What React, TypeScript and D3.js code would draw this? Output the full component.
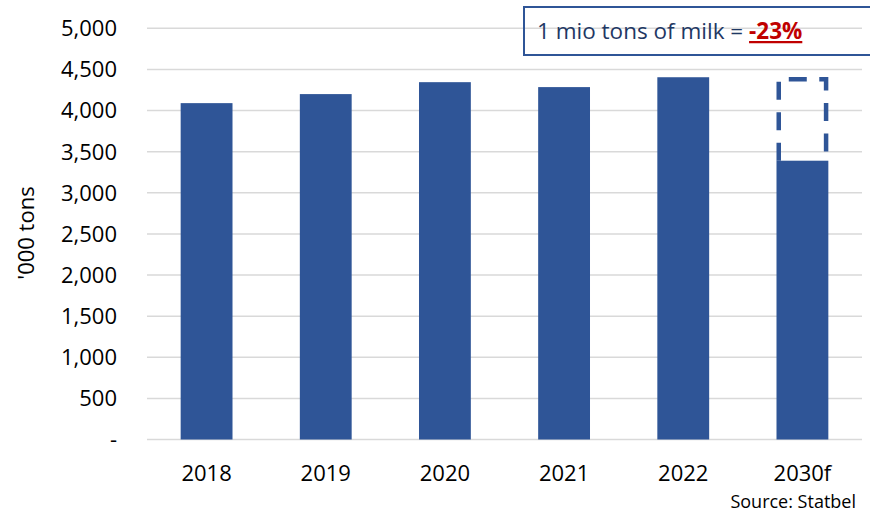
import React from "react";
import * as d3 from "d3";

const categories = ["2018", "2019", "2020", "2021", "2022", "2030f"];
const values = [4090, 4200, 4345, 4285, 4405, 3390];
const previousLevel = [null, null, null, null, null, 4405];
const yTicks = [0, 500, 1000, 1500, 2000, 2500, 3000, 3500, 4000, 4500, 5000];
const annotationText = "1 mio tons of milk = ";
const annotationValue = "-23%";
const yTitle = "'000 tons";
const sourceText = "Source: Statbel";

const W = 870;
const H = 514;
const FONT = "'Open Sans', 'Noto Sans', sans-serif";
const BLUE = "#2F5597";

export default function App() {
  const left = 147;
  const right = 862;
  const top = 28.3;
  const bottom = 439.5;

  const x = d3
    .scaleBand<string>()
    .domain(categories)
    .range([left, right])
    .paddingInner(0.565)
    .paddingOuter(0.2825);
  const y = d3.scaleLinear().domain([0, 5000]).range([bottom, top]);
  const fmt = (v: number) => (v === 0 ? "-" : d3.format(",")(v));

  const sw = 4.5;

  return (
    <svg
      width={W}
      height={H}
      style={{ position: "absolute", left: 0, top: 0, background: "#fff" }}
      fontFamily={FONT}
    >
      {yTicks.map((t) => (
        <g key={t}>
          <line x1={left} x2={right} y1={y(t)} y2={y(t)} stroke="#D9D9D9" strokeWidth={1.5} />
          <text x={117} y={y(t)} dy="0.36em" textAnchor="end" fontSize={22} fill="#000">
            {fmt(t)}
          </text>
        </g>
      ))}
      {categories.map((c, i) => (
        <g key={c}>
          <rect
            x={x(c)!}
            y={y(values[i])}
            width={x.bandwidth()}
            height={y(0) - y(values[i])}
            fill={BLUE}
          />
          <text
            x={x(c)! + x.bandwidth() / 2}
            y={481}
            textAnchor="middle"
            fontSize={22}
            fill="#000"
          >
            {c}
          </text>
        </g>
      ))}
      {categories.map((c, i) => {
        const p = previousLevel[i];
        if (p == null) return null;
        const x0 = x(c)! + sw / 2;
        const x1 = x(c)! + x.bandwidth() - sw / 2;
        const yb = y(values[i]);
        const yt = y(p) + 2;
        return (
          <path
            key={"d" + c}
            d={`M${x0},${yb}L${x0},${yt}L${x1},${yt}L${x1},${yb}`}
            fill="none"
            stroke={BLUE}
            strokeWidth={sw}
            strokeDasharray="18 12.5"
          />
        );
      })}
      <rect x={524} y={7} width={360} height={48} fill="none" stroke={BLUE} strokeWidth={2} />
      <text x={537} y={39} fontSize={22.5} fill="#1F3864">
        {annotationText}
        <tspan fill="#C00000" fontWeight="bold" textDecoration="underline">
          {annotationValue}
        </tspan>
      </text>
      <text
        transform={`translate(34,233) rotate(-90)`}
        textAnchor="middle"
        fontSize={22}
        fill="#000"
      >
        {yTitle}
      </text>
      <text x={856} y={508} textAnchor="end" fontSize={18} fill="#000">
        {sourceText}
      </text>
    </svg>
  );
}
